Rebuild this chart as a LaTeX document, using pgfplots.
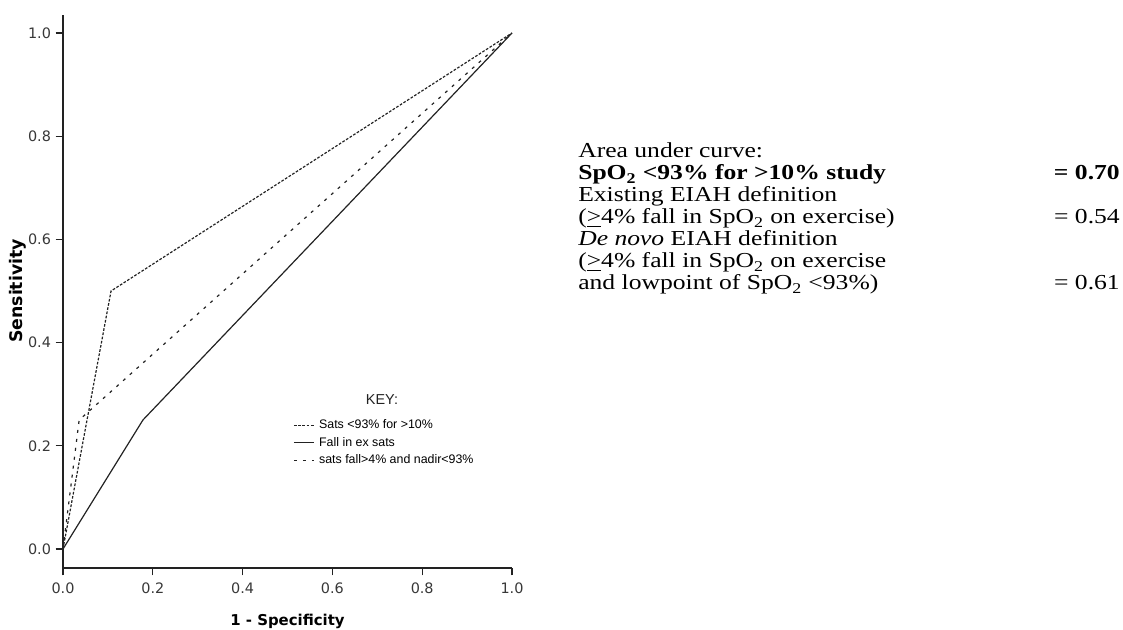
\documentclass[border=0pt]{standalone}
\usepackage{pgfplots}
\pgfplotsset{compat=1.18}
\usepackage{fontspec}
\setmainfont{Liberation Serif}
\newfontfamily\dejavu{DejaVu Sans}
\newfontfamily\arial{Liberation Sans}
\definecolor{ink}{HTML}{222222}
\newcommand{\tx}[1]{\scalebox{1.2}[1]{#1}}
\begin{document}
\begin{tikzpicture}[x=0.75pt,y=0.75pt]
\path[use as bounding box] (0,0) rectangle (1123,630);
\begin{axis}[
  at={(47.25pt,46.5pt)}, anchor=south west,
  scale only axis, width=336.75pt, height=414.75pt,
  xmin=0, xmax=1, ymin=-0.0368, ymax=1.0349,
  axis x line=bottom, axis y line=left,
  axis line style={-, draw=ink, line width=1pt},
  xtick={0,0.2,0.4,0.6,0.8,1.0},
  ytick={0,0.2,0.4,0.6,0.8,1.0},
  tick align=outside, major tick length=5.5pt,
  every tick/.style={draw=ink, line width=1pt},
  /pgf/number format/assume math mode=true,
  /pgf/number format/fixed, /pgf/number format/fixed zerofill,
  /pgf/number format/precision=1,
  tick label style={font=\fontsize{10.8}{12}\dejavu, text=ink!90},
  xticklabel style={yshift=-2pt},
  xlabel={1 - Specificity}, ylabel={Sensitivity},
  xlabel style={font=\fontsize{11.2}{12}\dejavu\bfseries, at={(rel axis cs:0.5,0)}, anchor=center, yshift=-39.75pt},
  ylabel style={font=\fontsize{13}{14}\dejavu\bfseries, at={(axis description cs:-0.1002,0.501)}, anchor=center},
  clip=false,
  legend cell align=left,
  legend image code/.code={\draw[#1] (0pt,0pt) -- (15pt,0pt);},
  legend style={draw=none, fill=none, font=\fontsize{9.3}{10}\arial,
    at={(rel axis cs:0.5122,0.2694)}, anchor=north west,
    inner sep=0pt, row sep=4.1pt, column sep=3.5pt,
    nodes={inner sep=0pt, text height=7pt, text depth=2pt}},
]
\addplot[ink, line width=0.9pt, dash pattern=on 2pt off 1.2pt]
  coordinates {(0,0) (0.107,0.5) (1,1)};
\addlegendentry{Sats <93\% for >10\%}
\addplot[ink, line width=0.9pt]
  coordinates {(0,0) (0.178,0.25) (1,1)};
\addlegendentry{Fall in ex sats}
\addplot[ink, line width=0.9pt, dash pattern=on 2.25pt off 4.5pt]
  coordinates {(0,0) (0.036,0.25) (1,1)};
\addlegendentry{sats fall>4\% and nadir<93\%}
\end{axis}
\node[font=\fontsize{10.8}{12}\arial, text=ink] at (382,230) {KEY:};
\begin{scope}[every node/.style={font=\fontsize{16}{18}\selectfont, inner sep=0pt}]
\node[anchor=base west] at (578,472) {\tx{Area under curve:}};
\node[anchor=base west] at (578,450) {\tx{\bfseries SpO\textsubscript{2} <93\% for >10\% study}};
\node[anchor=base east] at (1120,450) {\tx{\bfseries = 0.70}};
\node[anchor=base west] at (578,428) {\tx{Existing EIAH definition}};
\node[anchor=base west] at (578,406) {\tx{(\underline{>}4\% fall in SpO\textsubscript{2} on exercise)}};
\node[anchor=base east] at (1120,406) {\tx{= 0.54}};
\node[anchor=base west] at (578,384) {\tx{\itshape De novo\upshape{} EIAH definition}};
\node[anchor=base west] at (578,362) {\tx{(\underline{>}4\% fall in SpO\textsubscript{2} on exercise}};
\node[anchor=base west] at (578,340) {\tx{and lowpoint of SpO\textsubscript{2} <93\%)}};
\node[anchor=base east] at (1120,340) {\tx{= 0.61}};
\end{scope}
\end{tikzpicture}
\end{document}
